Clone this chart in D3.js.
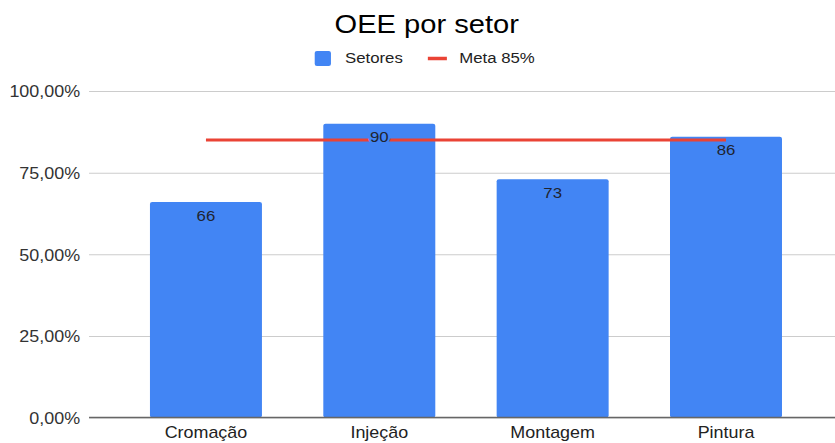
<!DOCTYPE html>
<html>
<head>
<meta charset="utf-8">
<script src="https://cdn.jsdelivr.net/npm/d3@7"></script>
<style>
  body { margin: 0; background: #fff; }
  svg { display: block; font-family: "Liberation Sans", Arial, sans-serif; }
</style>
</head>
<body>
<div id="chart"></div>
<script>
var categories = ["Cromação", "Injeção", "Montagem", "Pintura"];
var setores = [0.66, 0.90, 0.73, 0.86];
var meta = [0.85, 0.85, 0.85, 0.85];
var barLabels = ["66", "90", "73", "86"];
var tickValues = [0, 0.25, 0.5, 0.75, 1];
var tickLabels = ["0,00%", "25,00%", "50,00%", "75,00%", "100,00%"];
var legendNames = ["Setores", "Meta 85%"];

// the picture is a bit stretched sideways, so draw in narrower units and stretch
var stretch = 1.12,
    W = 835 / stretch,
    H = 443,
    gridLeft = 79.5,
    blue = "#4285f4",
    red = "#ea4335";

var svg = d3.select("#chart").append("svg")
  .attr("width", 835)
  .attr("height", H)
  .attr("viewBox", "0 0 " + W + " " + H)
  .attr("preserveAspectRatio", "none");

var xScale = d3.scaleBand()
  .domain(categories)
  .range([106.5, 725.6])
  .paddingInner(0.354)
  .paddingOuter(0.177);

var yScale = d3.scaleLinear()
  .domain([0, 1])
  .range([417.5, 91]);

// title
svg.append("text")
  .attr("x", 381)
  .attr("y", 33)
  .attr("text-anchor", "middle")
  .style("font-size", "26px")
  .style("fill", "#000")
  .text("OEE por setor");

// legend
var legend = svg.append("g").attr("transform", "translate(281,0)");
legend.append("rect")
  .attr("x", 0).attr("y", 51)
  .attr("width", 14.5).attr("height", 15)
  .attr("rx", 2)
  .style("fill", blue);
legend.append("text")
  .attr("x", 27).attr("y", 63.5)
  .style("font-size", "15px").style("fill", "#222")
  .text(legendNames[0]);
legend.append("line")
  .attr("x1", 101).attr("x2", 118)
  .attr("y1", 58.5).attr("y2", 58.5)
  .style("stroke", red).style("stroke-width", 3.5);
legend.append("text")
  .attr("x", 129).attr("y", 63.5)
  .style("font-size", "15px").style("fill", "#222")
  .text(legendNames[1]);

// gridlines + y labels
var yAxis = d3.axisLeft(yScale)
  .tickValues(tickValues)
  .tickSize(-(W - gridLeft))
  .tickPadding(8)
  .tickFormat(function(d, i) { return tickLabels[i]; });

var yGuide = svg.append("g")
  .attr("transform", "translate(" + gridLeft + ",0)")
  .call(yAxis);
yGuide.select(".domain").remove();
yGuide.selectAll(".tick line")
  .style("stroke", "#cccccc")
  .style("stroke-width", 1);
yGuide.selectAll(".tick text")
  .attr("dy", "0.36em")
  .style("font-size", "16px")
  .style("fill", "#333")
  .style("font-family", "Liberation Sans, Arial, sans-serif");

// bars
svg.append("g").selectAll("rect")
  .data(setores)
  .enter().append("rect")
    .attr("x", function(d, i) { return xScale(categories[i]); })
    .attr("y", function(d) { return yScale(d); })
    .attr("width", xScale.bandwidth())
    .attr("height", function(d) { return yScale(0) - yScale(d); })
    .attr("rx", 2)
    .style("fill", blue);

// baseline
svg.append("line")
  .attr("x1", gridLeft).attr("x2", W)
  .attr("y1", yScale(0)).attr("y2", yScale(0))
  .style("stroke", "#666").style("stroke-width", 1.5);

// meta line
var metaLine = d3.line()
  .x(function(d, i) { return xScale(categories[i]) + xScale.bandwidth() / 2; })
  .y(function(d) { return yScale(d); });

svg.append("path")
  .datum(meta)
  .attr("d", metaLine)
  .style("fill", "none")
  .style("stroke", red)
  .style("stroke-width", 3);

// bar labels
svg.append("g").selectAll("text")
  .data(setores)
  .enter().append("text")
    .attr("x", function(d, i) { return xScale(categories[i]) + xScale.bandwidth() / 2; })
    .attr("y", function(d) { return yScale(d) + 18.5; })
    .attr("text-anchor", "middle")
    .style("font-size", "15px")
    .style("fill", "#1f2430")
    .style("stroke", blue)
    .style("stroke-width", 4)
    .style("paint-order", "stroke")
    .text(function(d, i) { return barLabels[i]; });

// x labels
var xAxis = d3.axisBottom(xScale).tickSize(0).tickPadding(9);
var xGuide = svg.append("g")
  .attr("transform", "translate(0," + yScale(0) + ")")
  .call(xAxis);
xGuide.select(".domain").remove();
xGuide.selectAll(".tick text")
  .style("font-size", "16px")
  .style("fill", "#222")
  .style("font-family", "Liberation Sans, Arial, sans-serif");
</script>
</body>
</html>
